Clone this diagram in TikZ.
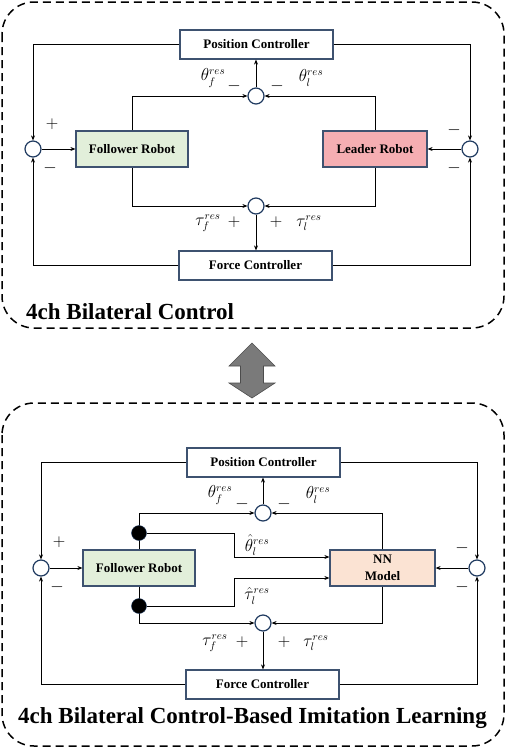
\documentclass[tikz,border=0pt]{standalone}
\usepackage{fontspec}
\setmainfont{Liberation Serif}
\usetikzlibrary{arrows.meta}
\definecolor{bordc}{HTML}{3E5270}
\definecolor{circc}{HTML}{1F3A60}
\definecolor{fgreen}{HTML}{E2EFDA}
\definecolor{lpink}{HTML}{F5AEB2}
\definecolor{nnpeach}{HTML}{FBE3D3}
\definecolor{arrg}{HTML}{7A7A7A}
\begin{document}
\begin{tikzpicture}[x=1pt,y=-1pt,
  box/.style={draw=bordc, line width=1.2pt, inner sep=0pt, align=center,
    font=\bfseries\fontsize{13}{14}\selectfont},
  sumc/.style={circle, draw=circc, line width=1.2pt, fill=white, minimum size=16pt, inner sep=0pt},
  dotc/.style={circle, fill=black, draw=circc, minimum size=15pt, inner sep=0pt},
  conn/.style={line width=1pt, -{Stealth[length=5pt,width=4pt]}},
  frame/.style={dashed, dash pattern=on 8pt off 5pt, line width=1.5pt, rounded corners=32pt},
  lbl/.style={font=\fontsize{16}{18}\selectfont, inner sep=0pt},
  sgn/.style={font=\fontsize{17}{18}\selectfont, inner sep=0pt},
  ttl/.style={font=\bfseries\fontsize{23}{25}\selectfont, inner sep=0pt}]
\useasboundingbox (0,0) rectangle (506,750);
\fill[white] (0,0) rectangle (506,750);

% ---------- top frame ----------
\draw[frame] (2,2) rectangle (504,328);

\node[box, minimum width=153pt, minimum height=29pt] (pc1) at (256.5,44.5) {Position Controller};
\node[box, minimum width=153pt, minimum height=29pt] (fc1) at (255.5,265.5) {Force Controller};
\node[box, fill=fgreen, minimum width=112pt, minimum height=36pt] (fr1) at (132,149) {Follower Robot};
\node[box, fill=lpink, minimum width=104pt, minimum height=36pt] (lr1) at (375,149) {Leader Robot};
\node[sumc] (sl1) at (33,149) {};
\node[sumc] (sr1) at (470,149) {};
\node[sumc] (st1) at (256,96) {};
\node[sumc] (sb1) at (256,206) {};

\draw[conn] (pc1.west) -| (sl1.north);
\draw[conn] (fc1.west) -| (sl1.south);
\draw[conn] (pc1.east) -| (sr1.north);
\draw[conn] (fc1.east) -| (sr1.south);
\draw[conn] (sl1) -- (fr1);
\draw[conn] (sr1) -- (lr1);
\draw[conn] (fr1.north) |- (st1.west);
\draw[conn] (lr1.north) |- (st1.east);
\draw[conn] (st1.north) -- (st1.north |- pc1.south);
\draw[conn] (fr1.south) |- (sb1.west);
\draw[conn] (lr1.south) |- (sb1.east);
\draw[conn] (sb1.south) -- (sb1.south |- fc1.north);

\node[lbl] (a1) at (213,78) {$\theta_f^{res}$};
\node[sgn] (a2) at (234,86) {$-$};
\node[sgn] (a3) at (277,86) {$-$};
\node[lbl] (a4) at (311,78) {$\theta_l^{res}$};
\node[lbl] (a5) at (208,223) {$\tau_f^{res}$};
\node[sgn] (a6) at (234,222) {$+$};
\node[sgn] (a7) at (276,222) {$+$};
\node[lbl] (a8) at (309,223) {$\tau_l^{res}$};
\node[sgn] (a9) at (52,124) {$+$};
\node[sgn] (a10) at (50,168) {$-$};
\node[sgn] (a11) at (454,130) {$-$};
\node[sgn] (a12) at (454,168) {$-$};
\node[ttl, anchor=west] (t1) at (26,312) {4ch Bilateral Control};

% ---------- double arrow ----------
\filldraw[fill=arrg, draw=black!70, line width=0.6pt]
  (252,343) -- (275,366) -- (263.5,366) -- (263.5,383) -- (275,383) -- (252,398)
  -- (229,383) -- (240.5,383) -- (240.5,366) -- (229,366) -- cycle;

% ---------- bottom frame ----------
\draw[frame] (2,403) rectangle (504,746);

\node[box, minimum width=153pt, minimum height=29pt] (pc2) at (263.5,462.5) {Position Controller};
\node[box, minimum width=153pt, minimum height=29pt] (fc2) at (262.5,684.5) {Force Controller};
\node[box, fill=fgreen, minimum width=112pt, minimum height=36pt] (fr2) at (139,568) {Follower Robot};
\node[box, fill=nnpeach, minimum width=105pt, minimum height=36pt] (nn2) at (382.5,568) {NN\\[3pt]Model};
\node[sumc] (sl2) at (41,568) {};
\node[sumc] (sr2) at (477,568) {};
\node[sumc] (st2) at (263,513) {};
\node[sumc] (sb2) at (263,623) {};
\coordinate (b1) at (234,557);
\coordinate (b2) at (234,578);

\draw[conn] (pc2.west) -| (sl2.north);
\draw[conn] (fc2.west) -| (sl2.south);
\draw[conn] (pc2.east) -| (sr2.north);
\draw[conn] (fc2.east) -| (sr2.south);
\draw[conn] (sl2) -- (fr2);
\draw[conn] (sr2) -- (nn2);
\draw[conn] (fr2.north) |- (st2.west);
\draw[conn] (nn2.north) |- (st2.east);
\draw[conn] (st2.north) -- (st2.north |- pc2.south);
\draw[conn] (fr2.south) |- (sb2.west);
\draw[conn] (nn2.south) |- (sb2.east);
\draw[conn] (sb2.south) -- (sb2.south |- fc2.north);

\node[dotc] (d1) at (139,533) {};
\node[dotc] (d2) at (139,606) {};
\draw[conn] (d1.east) -| (b1) -- (b1 -| nn2.west);
\draw[conn] (d2.east) -| (b2) -- (b2 -| nn2.west);

\node[lbl] (c1) at (220,495) {$\theta_f^{res}$};
\node[sgn] (c2) at (242,504) {$-$};
\node[sgn] (c3) at (284,504) {$-$};
\node[lbl] (c4) at (318,495) {$\theta_l^{res}$};
\node[lbl] (c5) at (257,545) {$\hat\theta_l^{res}$};
\node[lbl] (c6) at (257,596) {$\hat\tau_l^{res}$};
\node[lbl] (c7) at (215,643) {$\tau_f^{res}$};
\node[sgn] (c8) at (242,642) {$+$};
\node[sgn] (c9) at (284,642) {$+$};
\node[lbl] (c10) at (316,643) {$\tau_l^{res}$};
\node[sgn] (c11) at (59,542) {$+$};
\node[sgn] (c12) at (57,587) {$-$};
\node[sgn] (c13) at (462,548) {$-$};
\node[sgn] (c14) at (462,587) {$-$};
\node[ttl] (t2) at (252.5,718) {4ch Bilateral Control-Based Imitation Learning};
\end{tikzpicture}
\end{document}
